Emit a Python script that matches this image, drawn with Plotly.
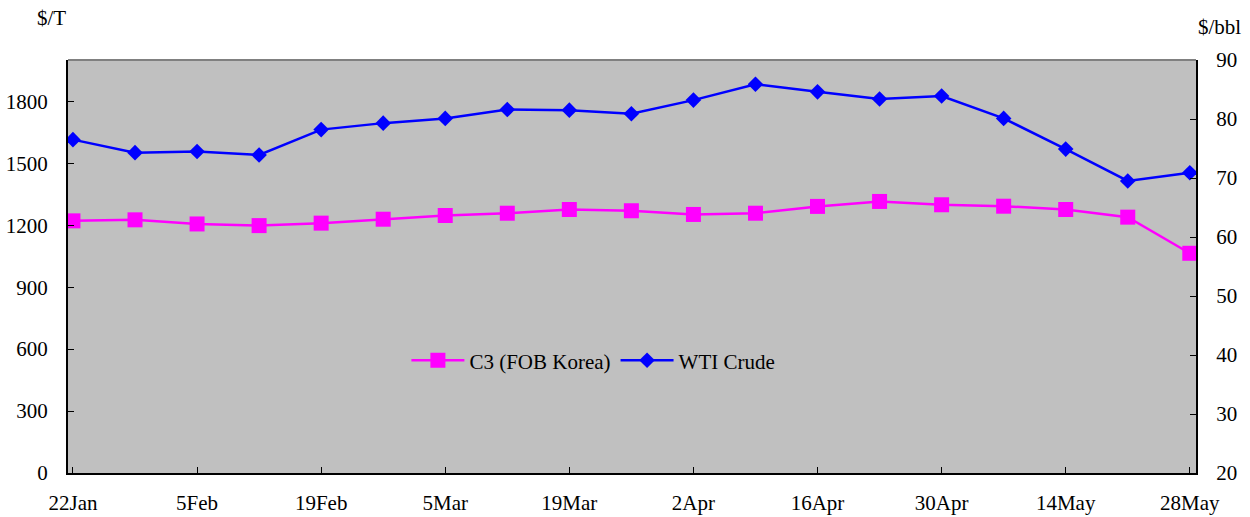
import plotly.graph_objects as go

weeks = ["22Jan", "29Jan", "5Feb", "12Feb", "19Feb", "26Feb", "5Mar", "12Mar",
         "19Mar", "26Mar", "2Apr", "9Apr", "16Apr", "23Apr", "30Apr", "7May",
         "14May", "21May", "28May"]
c3_fob_korea = [1221, 1226, 1206, 1198, 1210, 1229, 1247, 1258, 1276, 1270,
                1252, 1258, 1291, 1315, 1299, 1292, 1276, 1239, 1064]
wti_crude = [76.5, 74.3, 74.5, 73.9, 78.2, 79.3, 80.1, 81.6, 81.5, 80.9,
             83.2, 85.9, 84.6, 83.4, 83.9, 80.1, 74.9, 69.5, 70.9]
left_ticks = [0, 300, 600, 900, 1200, 1500, 1800]
right_ticks = [20, 30, 40, 50, 60, 70, 80, 90]
x_tick_labels = weeks[::2]

FONT = "Times New Roman, Liberation Serif, DejaVu Serif, serif"
FS = 21

fig = go.Figure()
fig.add_trace(go.Scatter(
    x=weeks, y=c3_fob_korea, name="C3 (FOB Korea)", mode="lines+markers",
    line=dict(color="#ff00ff", width=2.5),
    marker=dict(symbol="square", size=15, color="#ff00ff"),
    yaxis="y"))
fig.add_trace(go.Scatter(
    x=weeks, y=wti_crude, name="WTI Crude", mode="lines+markers",
    line=dict(color="#0000ff", width=2.5),
    marker=dict(symbol="diamond", size=12, color="#0000ff"),
    yaxis="y2"))

fig.update_layout(
    width=1250, height=517,
    margin=dict(l=68, r=54, t=60, b=44, autoexpand=False),
    paper_bgcolor="white", plot_bgcolor="#c0c0c0",
    font=dict(family=FONT, size=FS, color="black"),
    showlegend=True,
    legend=dict(orientation="h", x=0.300, xanchor="left", y=0.272, yanchor="middle",
                bgcolor="rgba(0,0,0,0)", font=dict(size=FS, family=FONT), itemwidth=53,
                traceorder="normal"),
    xaxis=dict(type="category", range=[-0.08, 18.1], automargin=False,
               tickvals=x_tick_labels, ticktext=x_tick_labels,
               tickfont=dict(family=FONT, size=FS),
               showline=True, linecolor="black", linewidth=2,
               ticks="inside", ticklen=6, tickcolor="black",
               showgrid=False, zeroline=False, ticklabelstandoff=10),
    yaxis=dict(range=[0, 2000], tickvals=left_ticks, automargin=False,
               tickfont=dict(family=FONT, size=FS),
               showline=True, linecolor="black", linewidth=2,
               ticks="inside", ticklen=6, tickcolor="black",
               showgrid=False, zeroline=False, ticklabelstandoff=14),
    yaxis2=dict(range=[20, 90], tickvals=right_ticks, overlaying="y", side="right",
                automargin=False, tickfont=dict(family=FONT, size=FS),
                showline=True, linecolor="black", linewidth=2,
                ticks="inside", ticklen=6, tickcolor="black",
                showgrid=False, zeroline=False, ticklabelstandoff=14),
    shapes=[dict(type="line", xref="paper", yref="paper", x0=0, x1=1, y0=1, y1=1,
                 line=dict(color="#808080", width=2))],
    annotations=[
        dict(text="$/T", xref="paper", yref="paper", x=-0.029, y=1.0, yshift=42,
             xanchor="left", yanchor="middle", showarrow=False,
             font=dict(size=FS, family=FONT)),
        dict(text="$/bbl", xref="paper", yref="paper", x=1.0, y=1.0, yshift=33,
             xanchor="left", yanchor="middle", showarrow=False,
             font=dict(size=FS, family=FONT)),
    ],
)

fig.write_html("out.html", config={"displayModeBar": False},
               post_script="document.body.style.margin='0';")
